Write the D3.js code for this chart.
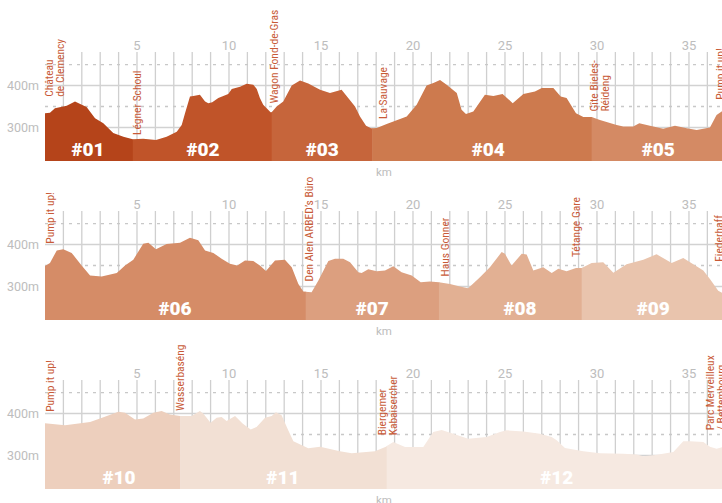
<!DOCTYPE html>
<html><head><meta charset="utf-8">
<script src="https://cdn.jsdelivr.net/npm/d3@7"></script>
<style>
html,body{margin:0;padding:0;background:#fff;overflow:hidden}
svg{display:block}
</style></head>
<body>
<svg id="chart" width="722" height="503"></svg>
<script>
// ---------- DATA ----------
const kmTicks = [5, 10, 15, 20, 25, 30, 35];
const elevGrid = [300, 350, 400, 450];
const elevLabels = [300, 400];

const profile1 = [[0,334],[0.27,335],[0.54,346],[1.18,352],[1.63,362],[2.0,354],[2.26,349],[2.72,322],[3.17,310],[3.71,287],[4.26,278],[4.77,272],[5.34,273],[6.03,270],[6.61,278],[7.16,290],[7.43,306],[7.61,334],[7.88,374],[8.06,375],[8.42,378],[8.70,362],[8.88,358],[9.09,360],[9.42,370],[9.96,380],[10.15,392],[10.60,397],[10.96,404],[11.32,402],[11.51,392],[11.68,370],[11.86,354],[12.26,336],[12.32,336],[12.59,350],[12.95,362],[13.41,400],[13.86,412],[14.31,405],[14.95,390],[15.49,382],[16.12,390],[16.48,370],[16.85,350],[17.12,326],[17.45,304],[17.72,298],[18.03,299],[18.57,308],[19.66,326],[20.2,354],[20.74,400],[21.11,406],[21.47,413],[21.83,402],[22.38,382],[22.64,342],[22.88,332],[23.28,338],[23.91,378],[24.37,375],[24.87,380],[25.42,358],[26.0,380],[26.63,386],[27.0,394],[27.63,394],[28.03,374],[28.35,370],[28.86,334],[29.26,325],[29.71,325],[30.16,318],[31.07,306],[31.43,302],[31.97,302],[32.3,310],[32.88,304],[33.6,297],[34.24,304],[34.88,298],[35.42,294],[36.14,300],[36.5,330],[36.85,340]];

const profile2 = [[0,349],[0.27,356],[0.64,386],[0.99,389],[1.45,380],[1.99,350],[2.45,326],[3.08,324],[3.9,332],[4.35,350],[4.8,364],[5.34,402],[5.62,404],[6.03,389],[6.61,401],[7.34,404],[7.88,416],[8.33,410],[8.70,386],[9.15,380],[9.6,366],[10.05,354],[10.45,350],[10.87,362],[11.32,361],[11.68,350],[12.01,337],[12.5,362],[13.04,364],[13.41,346],[13.77,306],[14.04,288],[14.49,286],[14.86,314],[15.4,361],[15.76,366],[16.21,366],[16.58,358],[17.03,334],[17.21,332],[17.57,341],[18.03,336],[18.48,338],[18.93,348],[19.38,334],[19.93,326],[20.42,310],[20.92,312],[21.41,310],[22.01,306],[22.55,300],[23.0,296],[23.64,322],[24.18,346],[24.82,382],[25.0,378],[25.36,350],[25.91,378],[26.18,376],[26.54,338],[27.08,346],[27.54,332],[27.9,342],[28.35,336],[28.86,344],[29.17,344],[29.71,356],[30.34,358],[30.89,333],[31.61,353],[32.52,364],[33.24,377],[34.06,356],[34.69,368],[35.78,338],[36.14,318],[36.59,290],[36.85,284]];

const profile3 = [[0,377],[1.09,372],[2.45,380],[2.99,388],[3.99,404],[4.35,402],[4.89,386],[5.34,388],[5.89,402],[6.34,406],[6.79,398],[7.34,394],[7.97,394],[8.42,406],[8.6,400],[9.0,378],[9.33,390],[9.6,392],[9.87,382],[10.33,394],[10.74,376],[11.18,362],[11.5,368],[11.96,390],[12.32,394],[12.55,403],[12.86,396],[13.22,360],[13.5,334],[14.31,317],[14.95,321],[16.03,310],[16.67,305],[17.93,310],[18.53,321],[18.93,332],[19.57,320],[20.56,320],[21.1,356],[21.56,361],[22.19,352],[23.0,340],[24.0,344],[24.73,356],[25.09,360],[26.0,357],[26.9,352],[27.54,344],[27.81,336],[28.26,318],[29.26,310],[30.16,305],[31.43,304],[32.16,302],[32.52,298],[33.19,301],[34.15,308],[34.69,334],[35.05,334],[35.78,332],[36.14,321],[36.5,316],[36.85,320]];

// segments: [name, startKm, endKm, labelKm]
const segments1 = [["#01",0,4.77,2.34],["#02",4.77,12.32,8.59],["#03",12.32,17.79,15.07],["#04",17.79,29.71,24.09],["#05",29.71,36.85,33.33]];
const segments2 = [["#06",0,14.17,7.07],["#07",14.17,21.41,17.79],["#08",21.41,29.17,25.82],["#09",29.17,36.85,33.06]];
const segments3 = [["#10",0,7.34,4.02],["#11",7.34,18.57,12.93],["#12",18.57,36.85,27.81]];

const segColors = {"#01":"#b5441a","#02":"#c05429","#03":"#c6653b","#04":"#cd7a4e","#05":"#d48a64",
  "#06":"#d58c67","#07":"#dc9f7f","#08":"#e2b093","#09":"#e9c4ad","#10":"#edcfbd","#11":"#f2e0d4","#12":"#f6e9e1"};

// place labels: [km, elevation at text start, lines]
const places1 = [[0.23,373,["Château","de Clemency"]],[5.0,282,["Légner Schoul"]],[12.45,357,["Wagon Fond-de-Gras"]],[18.35,320,["La Sauvage"]],[29.85,338,["Gîte Bieles-","Réideng"]],[36.68,366,["Pump it up!"]]];
const places2 = [[0.27,402,["Pump it up!"]],[14.35,312,["Den Alen ARBED’s Büro"]],[21.74,324,["Haus Gonner"]],[28.86,370,["Tétange Gare"]],[36.63,359,["Fiederhaff"]]];
const places3 = [[0.27,404,["Pump it up!"]],[7.34,406,["Wasserbaséng"]],[18.3,348,["Biergemer","Kabaisercher"]],[36.14,360,["Parc Merveilleux","/ Bettembourg"]]];

// ---------- LAYOUT ----------
const rows = [
  {top:52, profile:profile1, segs:segments1, places:places1},
  {top:211, profile:profile2, segs:segments2, places:places2},
  {top:380, profile:profile3, segs:segments3, places:places3}
];
const rowH = 109;
const W = 722;
const x = d3.scaleLinear().domain([0, 36.85]).range([45, 723]);
const gridKm = d3.range(1, 37);

const svg = d3.select("#chart");
const defs = svg.append("defs");
const fontLabel = "'Liberation Sans Narrow','Roboto Condensed','DejaVu Sans Condensed',sans-serif";
const fontAxis = "Roboto, 'Noto Sans', sans-serif";

rows.forEach((r, ri) => {
  const y = d3.scaleLinear().domain([220, 480]).range([r.top + rowH, r.top]);
  const g = svg.append("g");
  const bottom = r.top + rowH;

  // vertical grid
  g.append("g").selectAll("line").data(gridKm).join("line")
    .attr("x1", d => x(d)).attr("x2", d => x(d))
    .attr("y1", r.top).attr("y2", bottom)
    .attr("stroke", "#cfcfcf").attr("stroke-width", 1.3);
  // horizontal grid
  g.append("g").selectAll("line").data(elevGrid).join("line")
    .attr("x1", x(0)).attr("x2", W)
    .attr("y1", d => y(d)).attr("y2", d => y(d))
    .attr("stroke", d => d % 100 === 0 ? "#d2d2d2" : "#c8c8c8")
    .attr("stroke-width", d => d % 100 === 0 ? 1.6 : 1.3)
    .attr("stroke-dasharray", d => d % 100 === 0 ? null : "3,5");

  // km tick labels
  g.append("g").selectAll("text").data(kmTicks).join("text")
    .attr("x", d => x(d)).attr("y", r.top - 7)
    .attr("text-anchor", "middle").attr("dominant-baseline", "central")
    .attr("font-family", fontAxis).attr("font-size", 13).attr("fill", "#bdbdbd")
    .text(d => d);
  // elevation labels
  g.append("g").selectAll("text").data(elevLabels).join("text")
    .attr("x", 39).attr("y", d => y(d))
    .attr("text-anchor", "end").attr("dominant-baseline", "central")
    .attr("font-family", fontAxis).attr("font-size", 12.5).attr("fill", "#bdbdbd")
    .text(d => d + "m");
  // km axis title
  g.append("text").attr("x", (x(0) + 723) / 2).attr("y", bottom + 11)
    .attr("text-anchor", "middle").attr("dominant-baseline", "central")
    .attr("font-family", fontAxis).attr("font-size", 11.5).attr("fill", "#bdbdbd")
    .text("km");

  // areas per segment (clipped)
  const area = d3.area().x(d => x(d[0])).y0(bottom).y1(d => y(d[1]));
  r.segs.forEach((s, si) => {
    const id = "clip" + ri + "_" + si;
    defs.append("clipPath").attr("id", id).append("rect")
      .attr("x", x(s[1])).attr("y", 0)
      .attr("width", x(s[2]) - x(s[1]) + (si === r.segs.length - 1 ? 20 : 0.5))
      .attr("height", 503);
    g.append("path").datum(r.profile)
      .attr("d", area).attr("fill", segColors[s[0]])
      .attr("clip-path", "url(#" + id + ")");
  });
  // segment labels
  g.append("g").selectAll("text").data(r.segs).join("text")
    .attr("x", d => x(d[3])).attr("y", bottom - 5.5)
    .attr("text-anchor", "middle")
    .attr("font-family", "Roboto, 'Noto Sans', sans-serif").attr("font-weight", 900)
    .attr("font-size", 19).attr("fill", "#fff")
    .text(d => d[0]);

  // place labels
  r.places.forEach(p => {
    p[2].forEach((line, li) => {
      const px = x(p[0]) + li * 11;
      const py = y(p[1]);
      g.append("text")
        .attr("transform", `translate(${px},${py}) rotate(-90)`)
        .attr("dominant-baseline", "central")
        .attr("font-family", fontLabel).attr("font-size", 11.5)
        .attr("fill", "#c85a37")
        .text(line);
    });
  });
});
</script>
</body></html>
